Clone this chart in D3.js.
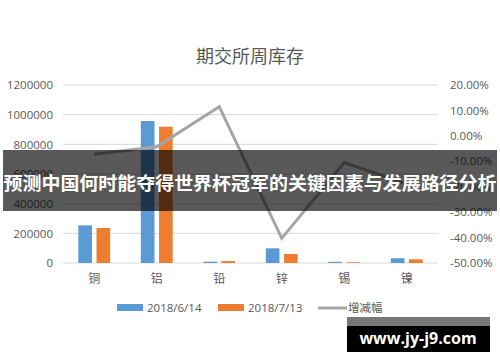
<!DOCTYPE html>
<html><head><meta charset="utf-8">
<script src="https://cdn.jsdelivr.net/npm/d3@7/dist/d3.min.js"></script>
<style>
html,body{margin:0;padding:0;background:#fff;}
svg{display:block;font-family:"Noto Sans CJK SC","Noto Sans",sans-serif;}
</style></head>
<body>
<svg id="c" width="500" height="362"></svg>
<script>
const categories = ["铜","铝","铅","锌","锡","镍"];
const seriesNames = ["2018/6/14","2018/7/13"];
const stock0614 = [254000, 957000, 9000, 99000, 8000, 32000];
const stock0713 = [236000, 919000, 13000, 61000, 5000, 25000];
const changePct = [-0.0725, -0.043, 0.115, -0.403, -0.105, -0.19];
const leftTicks = [0,200000,400000,600000,800000,1000000,1200000];
const rightTicks = [-0.5,-0.4,-0.3,-0.2,-0.1,0,0.1,0.2];
const title = "期交所周库存";
const lineName = "增减幅";
const bannerText = "预测中国何时能夺得世界杯冠军的关键因素与发展路径分析";
const watermark = "www.jy-j9.com";
const colors = ["#5b9bd5","#ed7d31"];
const lineColor = "#a5a5a5";

const svg = d3.select("#c");
const L=63, R=438, T=85, B=263;
const y = d3.scaleLinear().domain([0,1200000]).range([B,T]);
const y2 = d3.scaleLinear().domain([-0.5,0.2]).range([B,T]);
const x0 = d3.scaleBand().domain(categories).range([L,R]).paddingInner(0.49).paddingOuter(0.245);
const x1 = d3.scaleBand().domain(seriesNames).range([0,x0.bandwidth()]).paddingInner(0.25);

svg.append("text").attr("x",250).attr("y",63).attr("text-anchor","middle")
  .attr("font-size",18).attr("fill","#595959").text(title);

// gridlines
svg.append("g").selectAll("line").data(leftTicks).join("line")
  .attr("x1",L).attr("x2",R).attr("y1",d=>y(d)).attr("y2",d=>y(d))
  .attr("stroke","#d9d9d9").attr("stroke-width",1);

// left axis
const ga = svg.append("g").attr("transform",`translate(${L-10},0)`)
  .call(d3.axisLeft(y).tickValues(leftTicks).tickSize(0).tickPadding(0).tickFormat(d3.format("d")));
ga.select(".domain").remove();
ga.selectAll("text").attr("fill","#595959").attr("font-size",11.5).attr("font-family","'Open Sans','Noto Sans',sans-serif");

// right axis
const gr = svg.append("g").attr("transform",`translate(${R+12},0)`)
  .call(d3.axisRight(y2).tickValues(rightTicks).tickSize(0).tickPadding(0).tickFormat(d=>(d*100).toFixed(2)+"%"));
gr.select(".domain").remove();
gr.selectAll("text").attr("fill","#595959").attr("font-size",11.5).attr("font-family","'Open Sans','Noto Sans',sans-serif");

// category axis
const gx = svg.append("g").attr("transform",`translate(0,${B})`)
  .call(d3.axisBottom(x0).tickSize(0).tickPadding(11));
gx.select(".domain").remove();
gx.selectAll("text").attr("fill","#595959").attr("font-size",12).attr("font-family","'Noto Sans CJK SC',sans-serif");

// bars
const data = [stock0614, stock0713];
const g = svg.append("g");
categories.forEach((c,i)=>{
  seriesNames.forEach((s,j)=>{
    g.append("rect").attr("x",x0(c)+x1(s)).attr("width",x1.bandwidth())
      .attr("y",y(data[j][i])).attr("height",B-y(data[j][i])).attr("fill",colors[j]);
  });
});

// line
const line = d3.line().x((d,i)=>x0(categories[i])+x0.bandwidth()/2).y(d=>y2(d));
svg.append("path").datum(changePct).attr("d",line).attr("fill","none")
  .attr("stroke",lineColor).attr("stroke-width",3).attr("stroke-linejoin","miter");

// legend
const lg = svg.append("g").attr("font-size",11.5).attr("fill","#595959").attr("font-family","'Open Sans','Noto Sans',sans-serif");
const lx = [117, 218];
seriesNames.forEach((s,j)=>{
  lg.append("rect").attr("x",lx[j]).attr("y",304).attr("width",26).attr("height",7).attr("fill",colors[j]);
  lg.append("text").attr("x",lx[j]+30).attr("y",312).attr("fill","#595959").text(s);
});
lg.append("line").attr("x1",318).attr("x2",347).attr("y1",308).attr("y2",308).attr("stroke",lineColor).attr("stroke-width",3);
lg.append("text").attr("x",348).attr("y",312).attr("fill","#595959").attr("font-family","'Noto Sans CJK SC',sans-serif").text(lineName);

// banner overlay
svg.append("rect").attr("x",3).attr("y",150).attr("width",494).attr("height",61).attr("fill","rgba(0,0,0,0.65)");
svg.append("text").attr("x",250).attr("y",190).attr("text-anchor","middle").attr("font-size",18.2)
  .attr("font-weight","bold").attr("fill","#fff").attr("font-family","'Noto Sans CJK SC',sans-serif")
  .attr("textLength",493).attr("lengthAdjust","spacingAndGlyphs").text(bannerText);

// watermark
svg.append("rect").attr("x",347).attr("y",317).attr("width",143).attr("height",9).attr("fill","#777");
svg.append("rect").attr("x",347).attr("y",326).attr("width",143).attr("height",26).attr("fill","#000");
svg.append("text").attr("x",418).attr("y",344).attr("text-anchor","middle").attr("font-size",16)
  .attr("font-weight","bold").attr("fill","#fff").attr("font-family","'Open Sans','DejaVu Sans',sans-serif").text(watermark);
</script>
</body></html>
